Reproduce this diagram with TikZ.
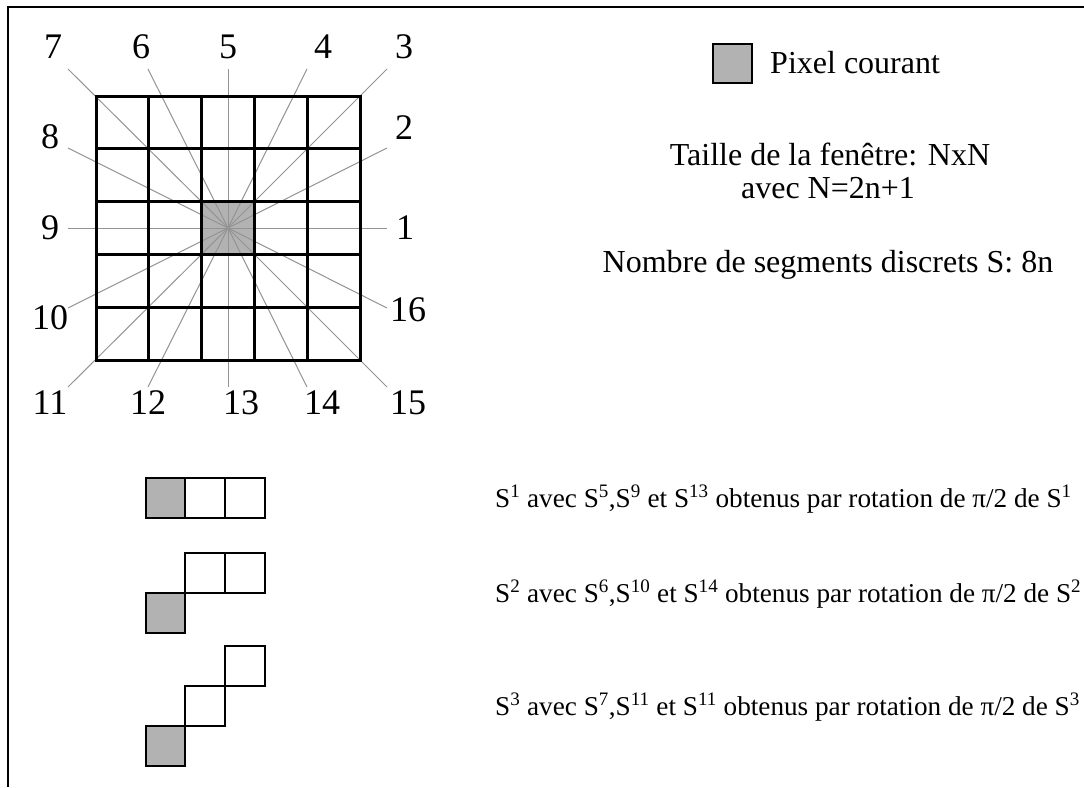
\documentclass[tikz,border=0pt]{standalone}
\usepackage{fontspec}
\setmainfont{Liberation Serif}

\begin{document}
\begin{tikzpicture}[x=1pt,y=-1pt,
  ray/.style={gray!85,line width=1pt},
  num/.style={inner sep=0pt,font=\fontsize{36}{38}\selectfont},
  info/.style={inner sep=0pt,anchor=base,font=\fontsize{32}{36}\selectfont},
  segtext/.style={inner sep=0pt,anchor=base west,font=\fontsize{27.2}{30}\selectfont},
  cell/.style={draw,line width=2.8pt},
  curcell/.style={cell,fill=black!30}]
\path[use as bounding box] (0,0) rectangle (1084,787);
\draw[line width=2pt] (1084,7)--(8,7)--(8,787);

% fenetre NxN
\fill[black!30] (201.6,201.6) rectangle (254.4,254.4);
\coordinate (c) at (228,228);
\coordinate (e1) at (387,228);
\coordinate (e2) at (387,148);
\coordinate (e3) at (387,69);
\coordinate (e4) at (307,69);
\coordinate (e5) at (228,69);
\coordinate (e6) at (148,69);
\coordinate (e7) at (68,69);
\coordinate (e8) at (68,148);
\coordinate (e9) at (68,228);
\coordinate (e10) at (68,308);
\coordinate (e11) at (68,387);
\coordinate (e12) at (148,387);
\coordinate (e13) at (228,387);
\coordinate (e14) at (307,387);
\coordinate (e15) at (387,387);
\coordinate (e16) at (387,308);
\foreach \i in {1,...,16} \draw[ray] (c)--(e\i);
\foreach \k in {96,148.8,201.6,254.4,307.2,360} {
  \draw[line width=3pt,line cap=rect] (\k,96)--(\k,360);
  \draw[line width=3pt,line cap=rect] (96,\k)--(360,\k);
}

\node[num] (n1) at (405,228) {1};
\node[num] (n2) at (404,128) {2};
\node[num] (n3) at (404,47) {3};
\node[num] (n4) at (323,47) {4};
\node[num] (n5) at (228,47) {5};
\node[num] (n6) at (141,47) {6};
\node[num] (n7) at (53,47) {7};
\node[num] (n8) at (50,137) {8};
\node[num] (n9) at (50,228) {9};
\node[num] (n10) at (50,318) {10};
\node[num] (n11) at (50,403) {11};
\node[num] (n12) at (148,403) {12};
\node[num] (n13) at (241,403) {13};
\node[num] (n14) at (322,403) {14};
\node[num] (n15) at (408,403) {15};
\node[num] (n16) at (408,310) {16};

% legende
\draw[fill=black!30,line width=1.5pt] (713,44) rectangle (752,83);
\node[info,anchor=base west] (pix) at (770,73) {Pixel courant};
\node[info] (taille) at (830,165) {Taille de la fenêtre: NxN};
\node[info] (avec) at (828,198) {avec N=2n+1};
\node[info] (nombre) at (828,272) {Nombre de segments discrets S: 8n};

% segments S1, S2, S3
\draw[curcell] (146,478) rectangle (185,518);
\draw[cell] (185,478) rectangle (225,518);
\draw[cell] (225,478) rectangle (265,518);
\draw[curcell] (146,593) rectangle (185,633);
\draw[cell] (185,553) rectangle (225,593);
\draw[cell] (225,553) rectangle (265,593);
\draw[curcell] (146,726) rectangle (185,766);
\draw[cell] (185,686) rectangle (225,726);
\draw[cell] (225,646) rectangle (265,686);

\node[segtext] (s1) at (495,507) {S\textsuperscript{1} avec S\textsuperscript{5},S\textsuperscript{9} et S\textsuperscript{13} obtenus par rotation de π/2 de S\textsuperscript{1}};
\node[segtext] (s2) at (495,602) {S\textsuperscript{2} avec S\textsuperscript{6},S\textsuperscript{10} et S\textsuperscript{14} obtenus par rotation de π/2 de S\textsuperscript{2}};
\node[segtext] (s3) at (495,715) {S\textsuperscript{3} avec S\textsuperscript{7},S\textsuperscript{11} et S\textsuperscript{11} obtenus par rotation de π/2 de S\textsuperscript{3}};
\end{tikzpicture}
\end{document}
